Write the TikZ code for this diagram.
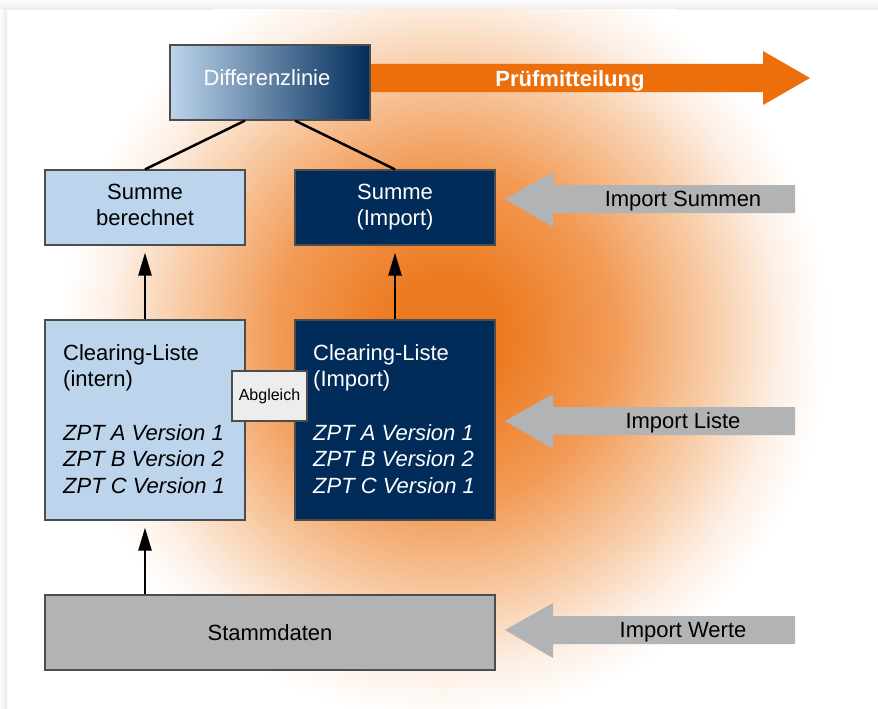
\documentclass[tikz,border=0pt]{standalone}
\usepackage{fontspec}
\setmainfont{Liberation Sans}
\usetikzlibrary{arrows.meta}
\definecolor{lblue}{HTML}{BDD5EC}
\definecolor{navy}{HTML}{012C5A}
\definecolor{boxgray}{HTML}{B3B3B3}
\definecolor{arrgray}{HTML}{B2B3B5}
\definecolor{orng}{HTML}{EC6F0C}
\definecolor{glowA}{HTML}{EC7A20}
\definecolor{glowB}{HTML}{F29A55}
\definecolor{glowC}{HTML}{F8CFAC}
\definecolor{glowD}{HTML}{FDF0E6}
\definecolor{bord}{HTML}{4D4D4D}
\pgfdeclareradialshading{glow}{\pgfpoint{0bp}{0bp}}{color(0bp)=(glowA); color(3.5bp)=(glowA); color(10.5bp)=(glowB); color(17bp)=(glowC); color(21bp)=(glowD); color(24bp)=(white); color(25bp)=(white); color(50bp)=(white)}
\begin{document}
\begin{tikzpicture}[x=1pt,y=-1pt,
  box/.style={draw=bord, line width=1.2pt, minimum width=200pt, minimum height=75pt, inner sep=0pt},
  txt/.style={font=\fontsize{22}{26.7}\selectfont, inner sep=0pt, anchor=base},
  ltxt/.style={txt, anchor=base west},
  itx/.style={ltxt, font=\fontsize{22}{26.7}\selectfont\itshape},
  uparr/.style={line width=2.5pt, -{Triangle[length=23pt,width=13pt]}, shorten >=7pt},
  link/.style={line width=2.5pt},
  imparr/.style={fill=arrgray}]
\useasboundingbox (0,0) rectangle (878,709);
% page and shadow
\fill[white] (0,0) rectangle (878,709);
\shade[top color=gray!2, bottom color=gray!16] (0,0) rectangle (878,10);
\shade[left color=gray!2, right color=gray!16] (0,10) rectangle (7,709);
\begin{scope}
  \clip (7,10) rectangle (878,709);
  \shade[shading=glow] (445,335) circle (400);
\end{scope}

% orange arrow
\fill[orng] (370,64) -- (763,64) -- (763,51) -- (810,78) -- (763,105) -- (763,92) -- (370,92) -- cycle;
\node[txt, font=\fontsize{22}{26.7}\selectfont\bfseries, text=white] (pm) at (570,86) {Prüfmitteilung};

% gray import arrows
\foreach \c/\t/\n in {199/Import Summen/is, 421/Import Liste/il, 630/Import Werte/iw}{
  \fill[imparr] (505,\c) -- (553,\c-27) -- (553,\c-14) -- (795,\c-14) -- (795,\c+14) -- (553,\c+14) -- (553,\c+28) -- cycle;
  \node[txt] (\n) at (683,\c+7) {\t};
}

% boxes
\node[box, left color=lblue, right color=navy] (diff) at (270,82.5) {};
\node[box, fill=lblue] (sb) at (145,207.5) {};
\node[box, fill=navy] (si) at (395,207.5) {};
\node[box, fill=lblue, minimum height=200pt] (cli) at (145,420) {};
\node[box, fill=navy, minimum height=200pt] (clx) at (395,420) {};
\node[box, fill=boxgray, minimum width=450pt] (st) at (270,632.5) {};

% connectors
\draw[link] ([xshift=-25pt]diff.south) -- (sb.north);
\draw[link] ([xshift=25pt]diff.south) -- (si.north);
\draw[uparr] (cli.north) -- (sb.south);
\draw[uparr] (clx.north) -- (si.south);
\draw[uparr] (st.north -| cli.south) -- (cli.south);

% texts
\node[txt, text=white] (tdiff) at (267,85) {Differenzlinie};
\node[txt] (sb1) at (145,199) {Summe};
\node[txt] (sb2) at (145,225.7) {berechnet};
\node[txt, text=white] (si1) at (395,199) {Summe};
\node[txt, text=white] (si2) at (395,225.7) {(Import)};

\node[ltxt] (c1) at (63,360) {Clearing-Liste};
\node[ltxt] (c2) at (63,386.7) {(intern)};
\node[itx] (c3) at (63,440) {ZPT A Version 1};
\node[itx] (c4) at (63,466.7) {ZPT B Version 2};
\node[itx] (c5) at (63,493.3) {ZPT C Version 1};

\node[ltxt, text=white] (d1) at (313,360) {Clearing-Liste};
\node[ltxt, text=white] (d2) at (313,386.7) {(Import)};
\node[itx, text=white] (d3) at (313,440) {ZPT A Version 1};
\node[itx, text=white] (d4) at (313,466.7) {ZPT B Version 2};
\node[itx, text=white] (d5) at (313,493.3) {ZPT C Version 1};

\node[txt] (tst) at (270,640) {Stammdaten};

% Abgleich
\node[draw=bord, fill=gray!14, line width=1.2pt, minimum width=75pt, minimum height=50pt, inner sep=0pt, font=\fontsize{16}{19}\selectfont] (abg) at (269.5,396) {Abgleich};
\end{tikzpicture}
\end{document}
